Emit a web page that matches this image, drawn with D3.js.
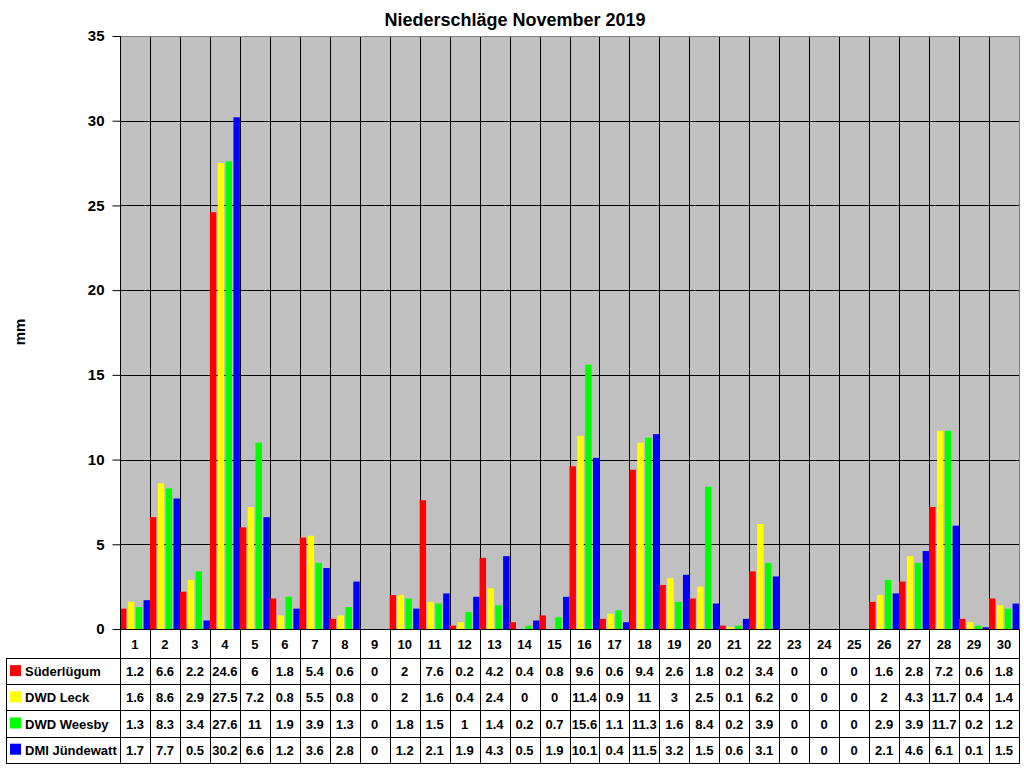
<!DOCTYPE html>
<html>
<head>
<meta charset="utf-8">
<script src="https://cdn.jsdelivr.net/npm/d3@7"></script>
<style>
  body { margin: 0; background: #fff; }
  text { font-family: Arial, "Liberation Sans", sans-serif; font-weight: bold; fill: #000; }
</style>
</head>
<body>
<svg width="1024" height="768"></svg>
<script>
'use strict';

var days = d3.range(1, 31).map(String);
var stations = ['Süderlügum', 'DWD Leck', 'DWD Weesby', 'DMI Jündewatt'];
var colors = ['#ff0000', '#ffff00', '#00ff00', '#0000ff'];

var suederluegum = [1.2, 6.6, 2.2, 24.6, 6, 1.8, 5.4, 0.6, 0, 2, 7.6, 0.2, 4.2, 0.4, 0.8, 9.6, 0.6, 9.4, 2.6, 1.8, 0.2, 3.4, 0, 0, 0, 1.6, 2.8, 7.2, 0.6, 1.8];
var leck = [1.6, 8.6, 2.9, 27.5, 7.2, 0.8, 5.5, 0.8, 0, 2, 1.6, 0.4, 2.4, 0, 0, 11.4, 0.9, 11, 3, 2.5, 0.1, 6.2, 0, 0, 0, 2, 4.3, 11.7, 0.4, 1.4];
var weesby = [1.3, 8.3, 3.4, 27.6, 11, 1.9, 3.9, 1.3, 0, 1.8, 1.5, 1, 1.4, 0.2, 0.7, 15.6, 1.1, 11.3, 1.6, 8.4, 0.2, 3.9, 0, 0, 0, 2.9, 3.9, 11.7, 0.2, 1.2];
var juendewatt = [1.7, 7.7, 0.5, 30.2, 6.6, 1.2, 3.6, 2.8, 0, 1.2, 2.1, 1.9, 4.3, 0.5, 1.9, 10.1, 0.4, 11.5, 3.2, 1.5, 0.6, 3.1, 0, 0, 0, 2.1, 4.6, 6.1, 0.1, 1.5];
var series = [suederluegum, leck, weesby, juendewatt];
var yTicks = [0, 5, 10, 15, 20, 25, 30, 35];

(() => {

var svg = d3.select('svg');
var left = 120, right = 1019, top = 36, bottom = 629;
var tableLeft = 6, labelRowBottom = 658, rowH = 26.2;

var x = d3.scaleBand().domain(days).range([left, right]);
var x1 = d3.scaleBand().domain(d3.range(4)).range([0, x.bandwidth()]).paddingInner(0.18);
var y = d3.scaleLinear().domain([0, 35]).range([bottom, top]);

// plot area
svg.append('rect')
  .attr('x', left).attr('y', top)
  .attr('width', right - left).attr('height', bottom - top)
  .attr('fill', '#c0c0c0');

// horizontal gridlines
svg.append('g').selectAll('line').data(yTicks.filter(d => d > 0 && d < 35)).enter().append('line')
  .attr('x1', left).attr('x2', right)
  .attr('y1', d => Math.round(y(d)) + 0.5).attr('y2', d => Math.round(y(d)) + 0.5)
  .attr('stroke', '#000');

// vertical gridlines at category boundaries
svg.append('g').selectAll('line').data(days.slice(1)).enter().append('line')
  .attr('x1', d => Math.round(x(d)) + 0.5).attr('x2', d => Math.round(x(d)) + 0.5)
  .attr('y1', top).attr('y2', bottom)
  .attr('stroke', '#000');

// bars
var groups = svg.append('g').selectAll('g').data(days).enter().append('g')
  .attr('transform', d => `translate(${x(d)},0)`);
groups.selectAll('rect')
  .data((d, i) => series.map((s, k) => ({k: k, v: s[i]})))
  .enter().append('rect')
  .attr('x', d => x1(d.k))
  .attr('width', x1.bandwidth())
  .attr('y', d => y(d.v))
  .attr('height', d => bottom - y(d.v))
  .attr('fill', d => colors[d.k]);

// plot border
svg.append('rect')
  .attr('x', left + 0.5).attr('y', top + 0.5)
  .attr('width', right - left).attr('height', bottom - top)
  .attr('fill', 'none').attr('stroke', '#808080');

// y axis
var yAxis = d3.axisLeft(y).tickValues(yTicks).tickSize(8).tickPadding(8);
var ya = svg.append('g').attr('transform', `translate(${left + 0.5},0)`).call(yAxis);
ya.select('.domain').attr('stroke', '#000').attr('d', `M0,${top}V${bottom}`);
ya.selectAll('.tick line').attr('stroke', '#000');
ya.selectAll('.tick text').style('font-size', '15px').style('font-weight', 'bold')
  .attr('font-family', 'Arial');

// x axis line
svg.append('line')
  .attr('x1', left).attr('x2', right)
  .attr('y1', bottom + 0.5).attr('y2', bottom + 0.5)
  .attr('stroke', '#000');

// data table
var tbl = svg.append('g');
// category label row verticals
tbl.selectAll('.cv').data(days.concat(['end'])).enter().append('line')
  .attr('x1', d => Math.round(d === 'end' ? right : x(d)) + 0.5)
  .attr('x2', d => Math.round(d === 'end' ? right : x(d)) + 0.5)
  .attr('y1', bottom).attr('y2', labelRowBottom + 4 * rowH)
  .attr('stroke', '#000');
// left border of table
tbl.append('line')
  .attr('x1', tableLeft + 0.5).attr('x2', tableLeft + 0.5)
  .attr('y1', labelRowBottom).attr('y2', labelRowBottom + 4 * rowH)
  .attr('stroke', '#000');
// horizontal row lines
tbl.selectAll('.rh').data(d3.range(5)).enter().append('line')
  .attr('x1', tableLeft).attr('x2', right + 1)
  .attr('y1', d => Math.round(labelRowBottom + d * rowH) + 0.5)
  .attr('y2', d => Math.round(labelRowBottom + d * rowH) + 0.5)
  .attr('stroke', '#000');

// category labels
tbl.selectAll('.cl').data(days).enter().append('text')
  .attr('x', d => x(d) + x.bandwidth() / 2)
  .attr('y', (bottom + labelRowBottom) / 2 + 5)
  .attr('text-anchor', 'middle')
  .style('font-size', '13px')
  .text(d => d);

// rows
stations.forEach((name, k) => {
  var cy = labelRowBottom + k * rowH + rowH / 2;
  tbl.append('rect')
    .attr('x', 10).attr('y', cy - 6)
    .attr('width', 11).attr('height', 11)
    .attr('fill', colors[k]);
  tbl.append('text')
    .attr('x', 25).attr('y', cy + 5)
    .style('font-size', '13px')
    .text(name);
  tbl.selectAll('.v' + k).data(series[k]).enter().append('text')
    .attr('x', (d, i) => x(days[i]) + x.bandwidth() / 2)
    .attr('y', cy + 5)
    .attr('text-anchor', 'middle')
    .style('font-size', '13px')
    .text(d => d);
});

// title
svg.append('text')
  .attr('x', 515).attr('y', 26)
  .attr('text-anchor', 'middle')
  .style('font-size', '18px')
  .text('Niederschläge November 2019');

// y axis title
svg.append('text')
  .attr('transform', 'translate(25,332) rotate(-90)')
  .attr('text-anchor', 'middle')
  .style('font-size', '15px')
  .text('mm');

})();
</script>
</body>
</html>
